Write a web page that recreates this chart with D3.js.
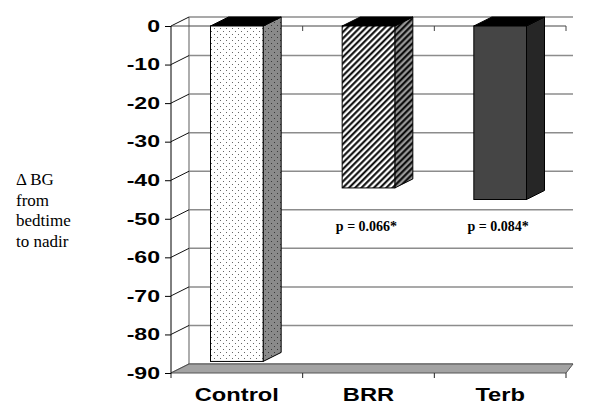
<!DOCTYPE html>
<html>
<head>
<meta charset="utf-8">
<script src="https://cdn.jsdelivr.net/npm/d3@7/dist/d3.min.js"></script>
<style>
  body { margin: 0; background: #fff; }
  svg { display: block; }
</style>
</head>
<body>
<div id="chart"></div>
<script>
// Change in BG chart, 3D-looking bars

// data
var categories = ["Control", "BRR", "Terb"];
var values = [-87, -42, -45];
var pLabels = ["", "p = 0.066*", "p = 0.084*"];
var yTicks = [0, -10, -20, -30, -40, -50, -60, -70, -80, -90];
var yTitle = ["\u0394 BG", "from", "bedtime", "to nadir"];

var width = 600;
var height = 414;

// depth of the 3D effect
var depthX = 18;
var depthY = -9;

var svg = d3.select("#chart")
  .append("svg")
  .attr("width", width)
  .attr("height", height);

var y = d3.scaleLinear().domain([-90, 0]).range([373, 26]);
var x = d3.scaleBand().domain(categories).range([171, 566]);
var backRight = 573;

// patterns
var defs = svg.append("defs");

function dotPattern(id, bg, dot) {
  var p = defs.append("pattern")
    .attr("id", id)
    .attr("width", 6)
    .attr("height", 6)
    .attr("patternUnits", "userSpaceOnUse");
  p.append("rect").attr("width", 6).attr("height", 6).attr("fill", bg);
  p.append("rect").attr("x", 1).attr("y", 1).attr("width", 1).attr("height", 1).attr("fill", dot);
  p.append("rect").attr("x", 4).attr("y", 4).attr("width", 1).attr("height", 1).attr("fill", dot);
}
dotPattern("dots", "#ffffff", "#666666");
dotPattern("dotsSide", "#8a8a8a", "#3a3a3a");

function hatchPattern(id, bg) {
  var p = defs.append("pattern")
    .attr("id", id)
    .attr("width", 4.4)
    .attr("height", 4.4)
    .attr("patternUnits", "userSpaceOnUse")
    .attr("patternTransform", "rotate(45)");
  p.append("rect").attr("width", 4.4).attr("height", 4.4).attr("fill", bg);
  p.append("line")
    .attr("x1", 1.2).attr("y1", 0).attr("x2", 1.2).attr("y2", 4.4)
    .attr("stroke", "#000").attr("stroke-width", 2);
}
hatchPattern("hatch", "#ffffff");
hatchPattern("hatchSide", "#999999");

var fronts = ["url(#dots)", "url(#hatch)", "#454545"];
var sides = ["url(#dotsSide)", "url(#hatchSide)", "#262626"];

// back wall gridlines
svg.append("g")
  .selectAll("line")
  .data(yTicks)
  .enter()
  .append("line")
  .attr("x1", 171 + depthX)
  .attr("x2", backRight)
  .attr("y1", function(d) { return y(d) + depthY; })
  .attr("y2", function(d) { return y(d) + depthY; })
  .attr("stroke", "#8c8c8c")
  .attr("stroke-width", 1.5);

// left wall: back edge and diagonals
svg.append("line")
  .attr("x1", 171 + depthX).attr("x2", 171 + depthX)
  .attr("y1", y(0) + depthY).attr("y2", y(-90) + depthY)
  .attr("stroke", "#777").attr("stroke-width", 1.2);

svg.append("g")
  .selectAll("line")
  .data(yTicks)
  .enter()
  .append("line")
  .attr("x1", 171)
  .attr("x2", 171 + depthX)
  .attr("y1", function(d) { return y(d); })
  .attr("y2", function(d) { return y(d) + depthY; })
  .attr("stroke", "#111")
  .attr("stroke-width", 1);

// floor
svg.append("polygon")
  .attr("points", [
    [171, y(-90)], [566, y(-90)],
    [backRight, y(-90) + depthY], [171 + depthX, y(-90) + depthY]
  ].join(" "))
  .attr("fill", "#a3a3a3")
  .attr("stroke", "#555")
  .attr("stroke-width", 1);

// category axis at zero
svg.append("line")
  .attr("x1", 171).attr("x2", 566)
  .attr("y1", y(0)).attr("y2", y(0))
  .attr("stroke", "#444").attr("stroke-width", 1);

var catTicks = [171].concat(categories.map(function(c) { return x(c) + x.bandwidth(); }));
svg.append("g")
  .selectAll("line")
  .data(catTicks.slice(1))
  .enter()
  .append("line")
  .attr("x1", function(d) { return d; })
  .attr("x2", function(d) { return d; })
  .attr("y1", y(0))
  .attr("y2", y(0) + 5)
  .attr("stroke", "#444");

svg.append("g")
  .selectAll("line")
  .data(catTicks)
  .enter()
  .append("line")
  .attr("x1", function(d) { return d; })
  .attr("x2", function(d) { return d; })
  .attr("y1", y(-90))
  .attr("y2", y(-90) + 5)
  .attr("stroke", "#222");

// bars
var barW = x.bandwidth() * 0.4;
var bars = svg.append("g")
  .selectAll("g")
  .data(values)
  .enter()
  .append("g");

function x0(i) { return x(categories[i]) + (x.bandwidth() - barW) / 2; }

bars.append("polygon")
  .attr("points", function(d, i) {
    var a = x0(i) + barW;
    return [[a, y(0)], [a + depthX, y(0) + depthY], [a + depthX, y(d) + depthY], [a, y(d)]].join(" ");
  })
  .attr("fill", function(d, i) { return sides[i]; })
  .attr("stroke", "#000")
  .attr("stroke-width", 1);

bars.append("polygon")
  .attr("points", function(d, i) {
    var a = x0(i);
    var b = a + barW;
    return [[a, y(0)], [a + depthX, y(0) + depthY], [b + depthX, y(0) + depthY], [b, y(0)]].join(" ");
  })
  .attr("fill", "#000")
  .attr("stroke", "#000")
  .attr("stroke-width", 1);

bars.append("rect")
  .attr("x", function(d, i) { return x0(i); })
  .attr("y", y(0))
  .attr("width", barW)
  .attr("height", function(d) { return y(d) - y(0); })
  .attr("fill", function(d, i) { return fronts[i]; })
  .attr("stroke", "#000")
  .attr("stroke-width", 1);

// value axis (plain hyphen for minus, like the original)
var yAxis = d3.axisLeft(y).tickValues(yTicks).tickSize(6).tickFormat(function(d) { return String(d); });
var axisG = svg.append("g")
  .attr("transform", "translate(171,0)")
  .call(yAxis);
axisG.select(".domain").remove();
axisG.selectAll(".tick line").attr("stroke", "#000");
axisG.selectAll(".tick text")
  .attr("x", -11 / 1.4)
  .attr("transform", "scale(1.4,1)")
  .attr("fill", "#000")
  .style("font-family", "'Liberation Sans', Arial, sans-serif")
  .style("font-weight", "bold")
  .style("font-size", "16.5px");
svg.append("line")
  .attr("x1", 171).attr("x2", 171)
  .attr("y1", y(0)).attr("y2", y(-90))
  .attr("stroke", "#000").attr("stroke-width", 1);

// category labels
svg.append("g")
  .selectAll("g")
  .data(categories)
  .enter()
  .append("g")
  .attr("transform", function(d) { return "translate(" + (x(d) + x.bandwidth() / 2) + ",401)"; })
  .append("text")
  .attr("transform", "scale(1.28,1)")
  .attr("text-anchor", "middle")
  .style("font-family", "'Liberation Sans', Arial, sans-serif")
  .style("font-weight", "bold")
  .style("font-size", "18.5px")
  .text(function(d) { return d; });

// p values
svg.append("g")
  .selectAll("text")
  .data(pLabels)
  .enter()
  .append("text")
  .attr("x", function(d, i) { return x(categories[i]) + x.bandwidth() / 2 - 2; })
  .attr("y", 231)
  .attr("text-anchor", "middle")
  .style("font-family", "'Liberation Serif', 'Times New Roman', serif")
  .style("font-weight", "bold")
  .style("font-size", "14px")
  .text(function(d) { return d; });

// y title
svg.append("g")
  .selectAll("text")
  .data(yTitle)
  .enter()
  .append("text")
  .attr("x", 16)
  .attr("y", function(d, i) { return 185 + i * 20.5; })
  .style("font-family", "'Liberation Serif', 'Times New Roman', serif")
  .style("font-size", "17px")
  .text(function(d) { return d; });
</script>
</body>
</html>
